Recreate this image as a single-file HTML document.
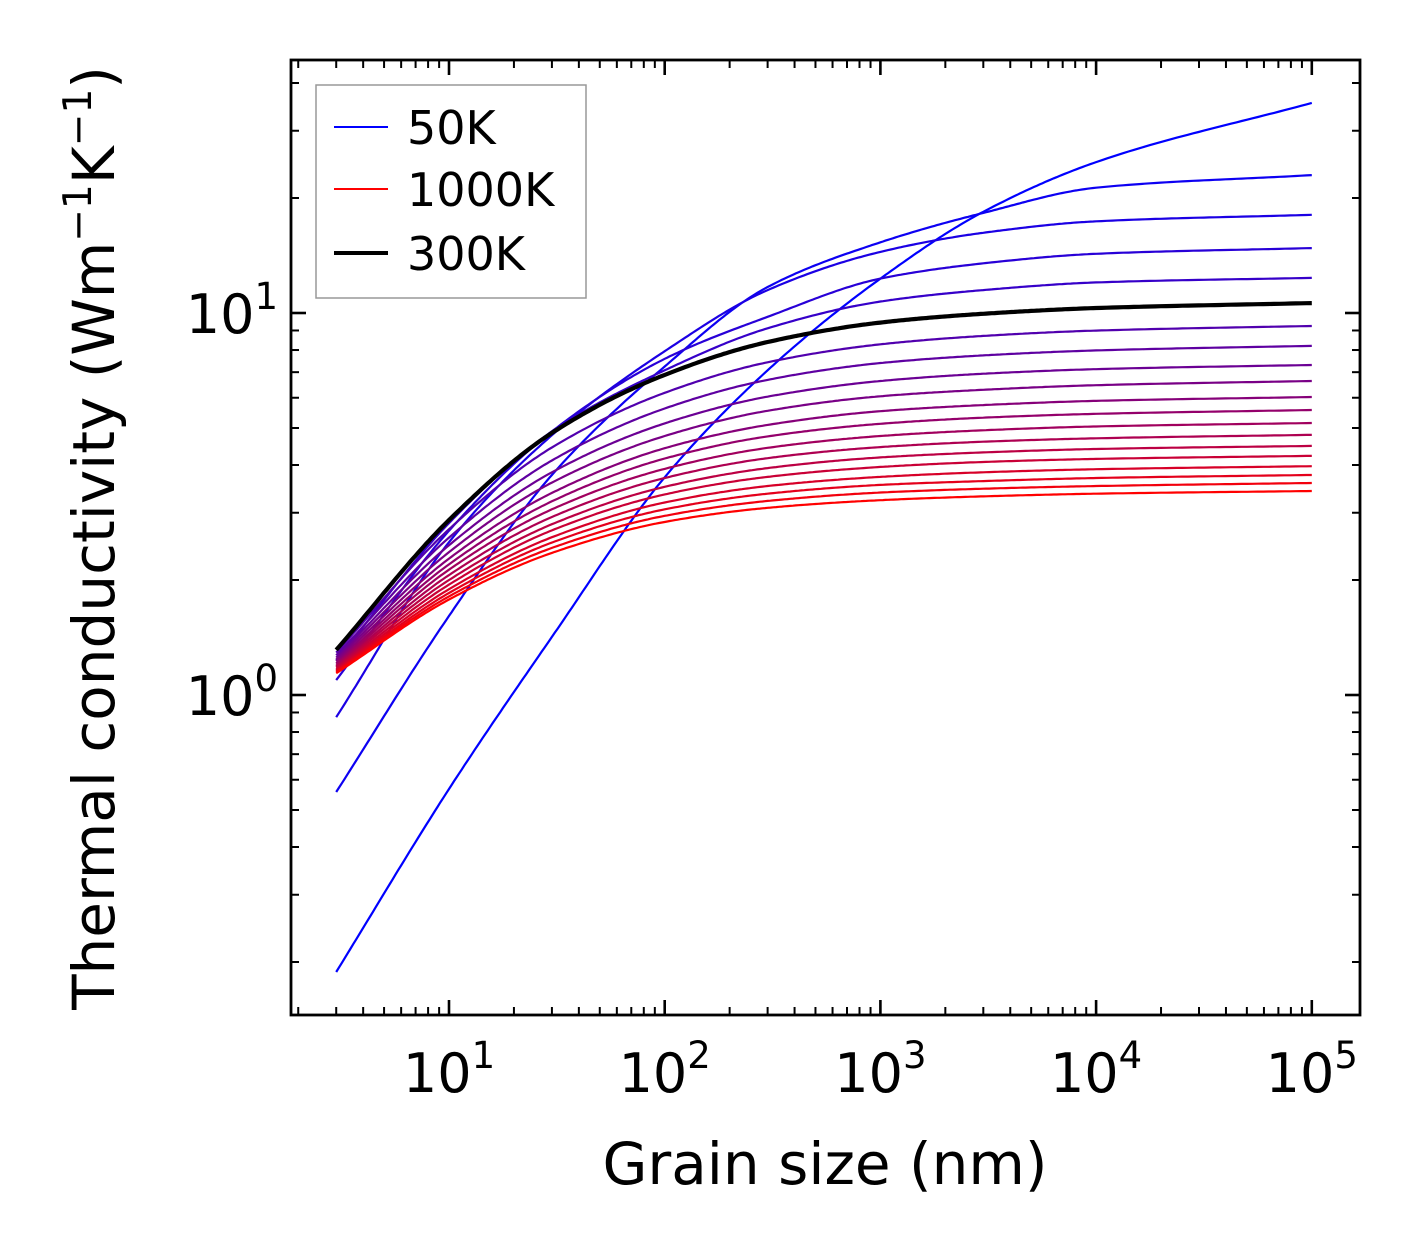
<!DOCTYPE html>
<html><head><meta charset="utf-8"><style>
html,body{margin:0;padding:0;background:#fff;}
svg{display:block;font-family:"DejaVu Sans","Liberation Sans",sans-serif;}
</style></head><body>
<svg id="chart" width="1421" height="1254" viewBox="0 0 1421 1254" xmlns="http://www.w3.org/2000/svg">
<g id="curves"></g>
<g id="axes"></g>
<g id="legend">
<rect x="316" y="85" width="270" height="213" fill="#fff" stroke="#999" stroke-width="1.5"/>
<line x1="334" y1="127" x2="388" y2="127" stroke="#0000ff" stroke-width="2"/>
<text x="407" y="144" font-size="46">50K</text>
<line x1="334" y1="189" x2="388" y2="189" stroke="#ff0000" stroke-width="2"/>
<text x="407" y="206" font-size="46">1000K</text>
<line x1="334" y1="253" x2="388" y2="253" stroke="#000" stroke-width="4"/>
<text x="407" y="270" font-size="46">300K</text>
</g>
<text x="825" y="1184" font-size="58" text-anchor="middle">Grain size (nm)</text>
<text transform="translate(114,538) rotate(-90)" font-size="58" text-anchor="middle">Thermal conductivity (Wm<tspan dy="-23" font-size="39">−1</tspan><tspan dy="23">K</tspan><tspan dy="-23" font-size="39">−1</tspan><tspan dy="23">)</tspan></text>
</svg>
<script>
// grain sizes (nm) at which each curve was read
const grainSizes = [3, 10, 30, 100, 300, 1000, 3000, 10000, 100000];
// temperatures (K)
const temperatures = [50,100,150,200,250,300,350,400,450,500,550,600,650,700,750,800,850,900,950,1000];
// log10 of thermal conductivity (W/mK) at grainSizes, one array per temperature
const k50   = [-0.725,-0.246,0.152,0.570,0.850,1.090,1.265,1.395,1.550];
const k100  = [-0.254,0.207,0.576,0.860,1.068,1.185,1.262,1.328,1.361];
const k150  = [-0.058,0.400,0.680,0.900,1.060,1.160,1.210,1.240,1.257];
const k200  = [0.039,0.430,0.690,0.880,0.990,1.090,1.130,1.155,1.170];
const k250  = [0.090,0.450,0.690,0.850,0.960,1.030,1.060,1.080,1.092];
const k300  = [0.118,0.458,0.686,0.838,0.924,0.975,0.998,1.013,1.026];
const k350  = [0.111,0.434,0.648,0.791,0.871,0.918,0.940,0.954,0.966];
const k400  = [0.104,0.412,0.614,0.750,0.825,0.869,0.889,0.902,0.914];
const k450  = [0.098,0.392,0.583,0.711,0.781,0.822,0.841,0.853,0.864];
const k500  = [0.093,0.374,0.556,0.678,0.744,0.782,0.799,0.811,0.822];
const k550  = [0.088,0.357,0.529,0.646,0.707,0.743,0.759,0.770,0.780];
const k600  = [0.083,0.342,0.507,0.619,0.677,0.710,0.726,0.736,0.746];
const k650  = [0.079,0.328,0.486,0.592,0.647,0.678,0.693,0.703,0.712];
const k700  = [0.075,0.314,0.466,0.568,0.620,0.649,0.663,0.672,0.681];
const k750  = [0.072,0.301,0.447,0.545,0.594,0.622,0.635,0.644,0.652];
const k800  = [0.068,0.289,0.431,0.525,0.571,0.597,0.610,0.618,0.626];
const k850  = [0.065,0.277,0.413,0.504,0.547,0.571,0.583,0.591,0.599];
const k900  = [0.062,0.267,0.399,0.486,0.527,0.550,0.560,0.568,0.576];
const k950  = [0.060,0.258,0.385,0.469,0.508,0.530,0.540,0.547,0.555];
const k1000 = [0.057,0.250,0.372,0.453,0.490,0.510,0.520,0.527,0.534];
const series = [k50,k100,k150,k200,k250,k300,k350,k400,k450,k500,k550,k600,k650,k700,k750,k800,k850,k900,k950,k1000];
const xTickExps = [1,2,3,4,5];
const yTickExps = [0,1];

const NS = "http://www.w3.org/2000/svg";
const L = 291, R = 1360, T = 60, B = 1015;
const xDec = 215.7, x10 = 449;
const yDec = 382, y1 = 695;
function xsLog(lx){ return x10 + (lx - 1) * xDec; }
function xs(v){ return xsLog(Math.log10(v)); }
function ysLog(lg){ return y1 - lg * yDec; }
function mk(tag, attrs, parent){ const e = document.createElementNS(NS, tag); for (const k in attrs) e.setAttribute(k, attrs[k]); parent.appendChild(e); return e; }

// monotone cubic (Fritsch-Carlson) in log-log space
function pathFor(vals){
  const X = grainSizes.map(v=>Math.log10(v)), Y = vals, n = X.length;
  const d = [], m = new Array(n);
  for (let i=0;i<n-1;i++) d.push((Y[i+1]-Y[i])/(X[i+1]-X[i]));
  m[0]=d[0]; m[n-1]=d[n-2];
  for (let i=1;i<n-1;i++){
    if (d[i-1]*d[i] <= 0) m[i]=0;
    else { const w1 = 2*(X[i+1]-X[i])+(X[i]-X[i-1]), w2=(X[i+1]-X[i])+2*(X[i]-X[i-1]); m[i]=(w1+w2)/(w1/d[i-1]+w2/d[i]); }
  }
  const pts = [];
  for (let i=0;i<n-1;i++){
    const h = X[i+1]-X[i], steps = 40;
    for (let s=(i===0?0:1); s<=steps; s++){
      const t = s/steps, t2=t*t, t3=t2*t;
      const y = (2*t3-3*t2+1)*Y[i] + (t3-2*t2+t)*h*m[i] + (-2*t3+3*t2)*Y[i+1] + (t3-t2)*h*m[i+1];
      pts.push(xsLog(X[i]+t*h).toFixed(1)+','+ysLog(y).toFixed(1));
    }
  }
  return 'M'+pts.join(' L');
}
const curves = document.getElementById('curves');
const blackIdx = temperatures.indexOf(300);
series.forEach((vals,i)=>{
  if (i === blackIdx) return;
  const f = i/(series.length-1);
  const col = `rgb(${Math.round(255*f)},0,${Math.round(255*(1-f))})`;
  const el = mk('path', {d: pathFor(vals), fill:'none', stroke: col, 'stroke-width': 2.2}, curves);
  
  
});
{
  const el = mk('path', {d: pathFor(series[blackIdx]), fill:'none', stroke:'#000', 'stroke-width': 4.2}, curves);
  
  
}

const axes = document.getElementById('axes');
const frame = mk('rect', {x:L, y:T, width:R-L, height:B-T, fill:'none', stroke:'#000', 'stroke-width':2.8}, axes);


for (let e=0;e<=5;e++){
  for (let m=1;m<=9;m++){
    const x = xs(m*Math.pow(10,e));
    if (x < L+1 || x > R-1) continue;
    const len = m===1 ? 15 : 8;
    const w = m===1 ? 2.6 : 2;
    const t1 = mk('line', {x1:x,y1:B,x2:x,y2:B-len,stroke:'#000','stroke-width':w}, axes);
    
    
    const t2 = mk('line', {x1:x,y1:T,x2:x,y2:T+len,stroke:'#000','stroke-width':w}, axes);
    
    
  }
}
xTickExps.forEach(e=>{
  const x = xs(Math.pow(10,e));
  const t = mk('text', {x:x, y:1092, 'font-size':54, 'text-anchor':'middle'}, axes);
  
  
  t.innerHTML = `10<tspan dy="-24" font-size="37">${e}</tspan>`;
});
for (let e=-1;e<=1;e++){
  for (let m=1;m<=9;m++){
    const y = ysLog(e + Math.log10(m));
    if (y < T+1 || y > B-1) continue;
    const len = m===1 ? 15 : 8;
    const w = m===1 ? 2.6 : 2;
    const t1 = mk('line', {x1:L,y1:y,x2:L+len,y2:y,stroke:'#000','stroke-width':w}, axes);
    
    
    const t2 = mk('line', {x1:R,y1:y,x2:R-len,y2:y,stroke:'#000','stroke-width':w}, axes);
    
    
  }
}
yTickExps.forEach(e=>{
  const y = ysLog(e);
  const t = mk('text', {x:278, y:y+20, 'font-size':54, 'text-anchor':'end'}, axes);
  
  
  t.innerHTML = `10<tspan dy="-24" font-size="37">${e}</tspan>`;
});
</script>
</body></html>
